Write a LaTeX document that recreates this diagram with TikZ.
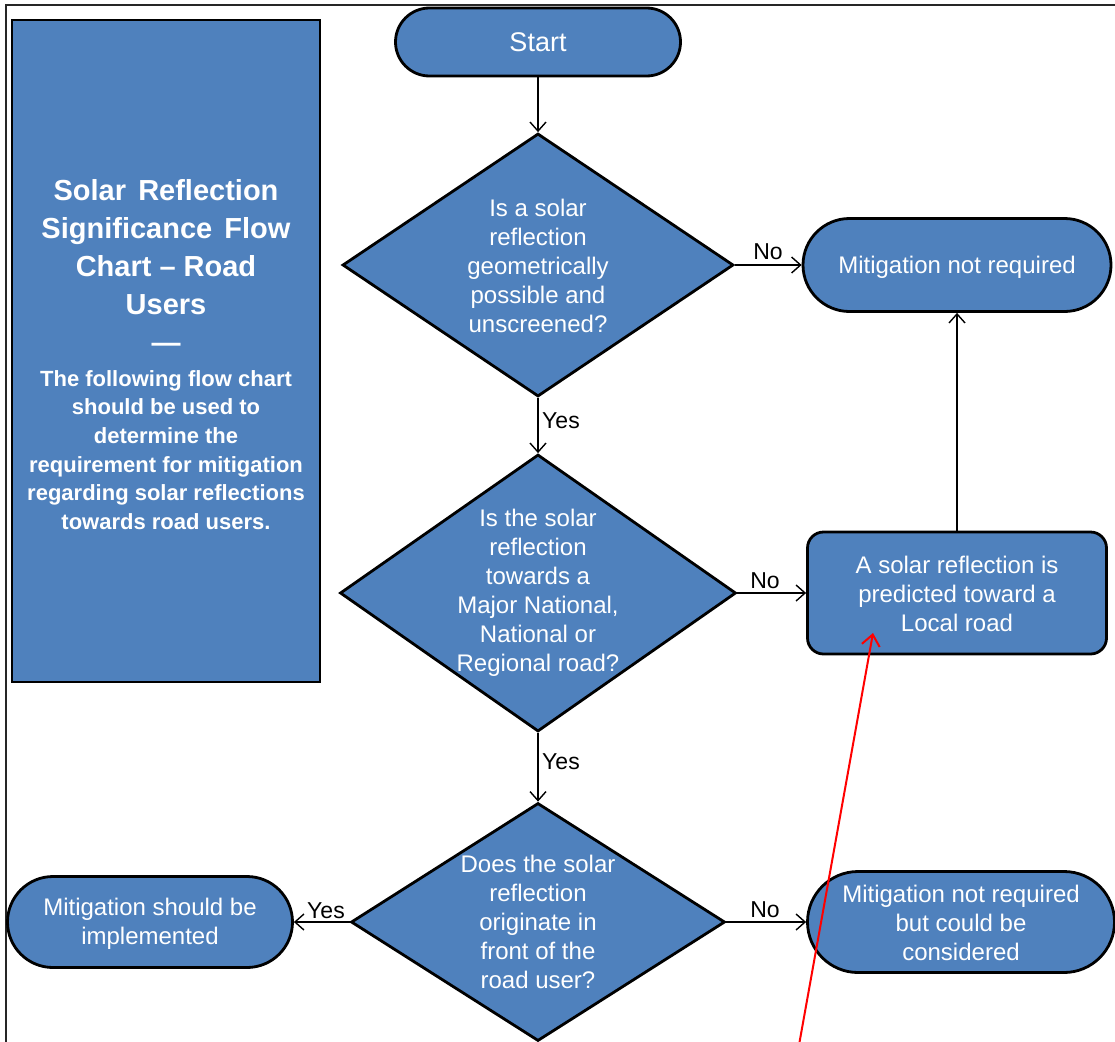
\documentclass[tikz,border=0pt]{standalone}
\usepackage{fontspec}
\setmainfont{Liberation Sans}
\usetikzlibrary{shapes.geometric,shapes.misc,arrows.meta}
\definecolor{boxblue}{RGB}{79,129,189}
\newcommand\mytitlefont{\bfseries\fontsize{29}{38}\selectfont}
\begin{document}
\begin{tikzpicture}[x=1pt,y=-1pt,
  shp/.style={draw=black, line width=2.8pt, fill=boxblue, inner sep=0pt},
  term/.style={shp, rounded rectangle},
  dia/.style={shp, diamond},
  txt/.style={text=white, font=\fontsize{24}{29}\selectfont, align=center, inner sep=0pt},
  conn/.style={line width=1.4pt, -{Straight Barb[length=9pt,width=16pt]}},
  lab/.style={font=\fontsize{23}{27}\selectfont, inner sep=0pt},
]
\useasboundingbox (0,0) rectangle (1115,1041);
% outer frame
\coordinate (fa) at (6,1050);
\coordinate (fb) at (6,5);
\coordinate (fc) at (1125,5);
\draw[line width=1.8pt, black!85] (fa) -- (fb) -- (fc);

% left information panel
\node[shp, minimum width=308pt, minimum height=662pt] (info) at (166,351) {};
\node[text=white, align=center, inner sep=0pt, font=\mytitlefont] (title) at (166,266) {Solar\hspace{0.42em}Reflection\\Significance\hspace{0.42em}Flow\\Chart – Road\\Users\\—};
\node[text=white, align=center, inner sep=0pt, font=\bfseries\fontsize{22}{28.6}\selectfont] (sub) at (166,450) {The following flow chart\\should be used to\\determine the\\requirement for mitigation\\regarding solar reflections\\towards road users.};

% start
\node[term, minimum width=285pt, minimum height=68pt] (start) at (538,42) {};
\node[txt, font=\fontsize{27}{32}\selectfont] (startt) at (start) {Start};

% decision 1
\node[dia, minimum width=391pt, minimum height=263pt] (d1) at (538,265) {};
\node[txt] (d1t) at (538,266) {Is a solar\\reflection\\geometrically\\possible and\\unscreened?};

% mitigation not required
\node[term, minimum width=308pt, minimum height=93pt] (mnr) at (957,265) {};
\node[txt] (mnrt) at (957,267) {Mitigation not required};

% decision 2
\node[dia, minimum width=396pt, minimum height=277pt] (d2) at (538,593) {};
\node[txt] (d2t) at (538,593) {Is the solar\\reflection\\towards a\\Major National,\\National or\\Regional road?};

% local road box
\node[shp, rounded corners=16pt, minimum width=299pt, minimum height=122pt] (local) at (957,593) {};
\node[txt] (localt) at (957,594) {A solar reflection is\\predicted toward a\\Local road};

% decision 3
\node[dia, minimum width=374pt, minimum height=238pt] (d3) at (538,922) {};
\node[txt] (d3t) at (538,922) {Does the solar\\reflection\\originate in\\front of the\\road user?};

% outcomes
\node[term, minimum width=285pt, minimum height=91pt] (msb) at (150,922) {};
\node[txt] (msbt) at (150,924) {Mitigation should be\\implemented};
\node[term, minimum width=307pt, minimum height=101pt] (mnc) at (961,922) {};
\node[txt] (mnct) at (961,923) {Mitigation not required\\but could be\\considered};

% connectors
\draw[conn] (start) -- (d1);
\draw[conn] (d1.east) -- (mnr.west);
\draw[conn] (d1) -- (d2);
\draw[conn] (d2.east) -- (local.west);
\draw[conn] (local) -- (mnr);
\draw[conn] (d2) -- (d3);
\draw[conn] (d3.west) -- (msb.east);
\draw[conn] (d3.east) -- (mnc.west);

% connector labels
\node[lab] (l1) at (768,252) {No};
\node[lab] (l2) at (561,421) {Yes};
\node[lab] (l3) at (765,581) {No};
\node[lab] (l4) at (561,762) {Yes};
\node[lab] (l5) at (326,911) {Yes};
\node[lab] (l6) at (765,910) {No};

% red annotation arrow
\coordinate (rs) at (799,1045);
\coordinate (re) at (873,633);
\draw[red, line width=2pt, -{Straight Barb[length=11pt,width=18pt]}] (rs) -- (re);
\end{tikzpicture}
\end{document}
